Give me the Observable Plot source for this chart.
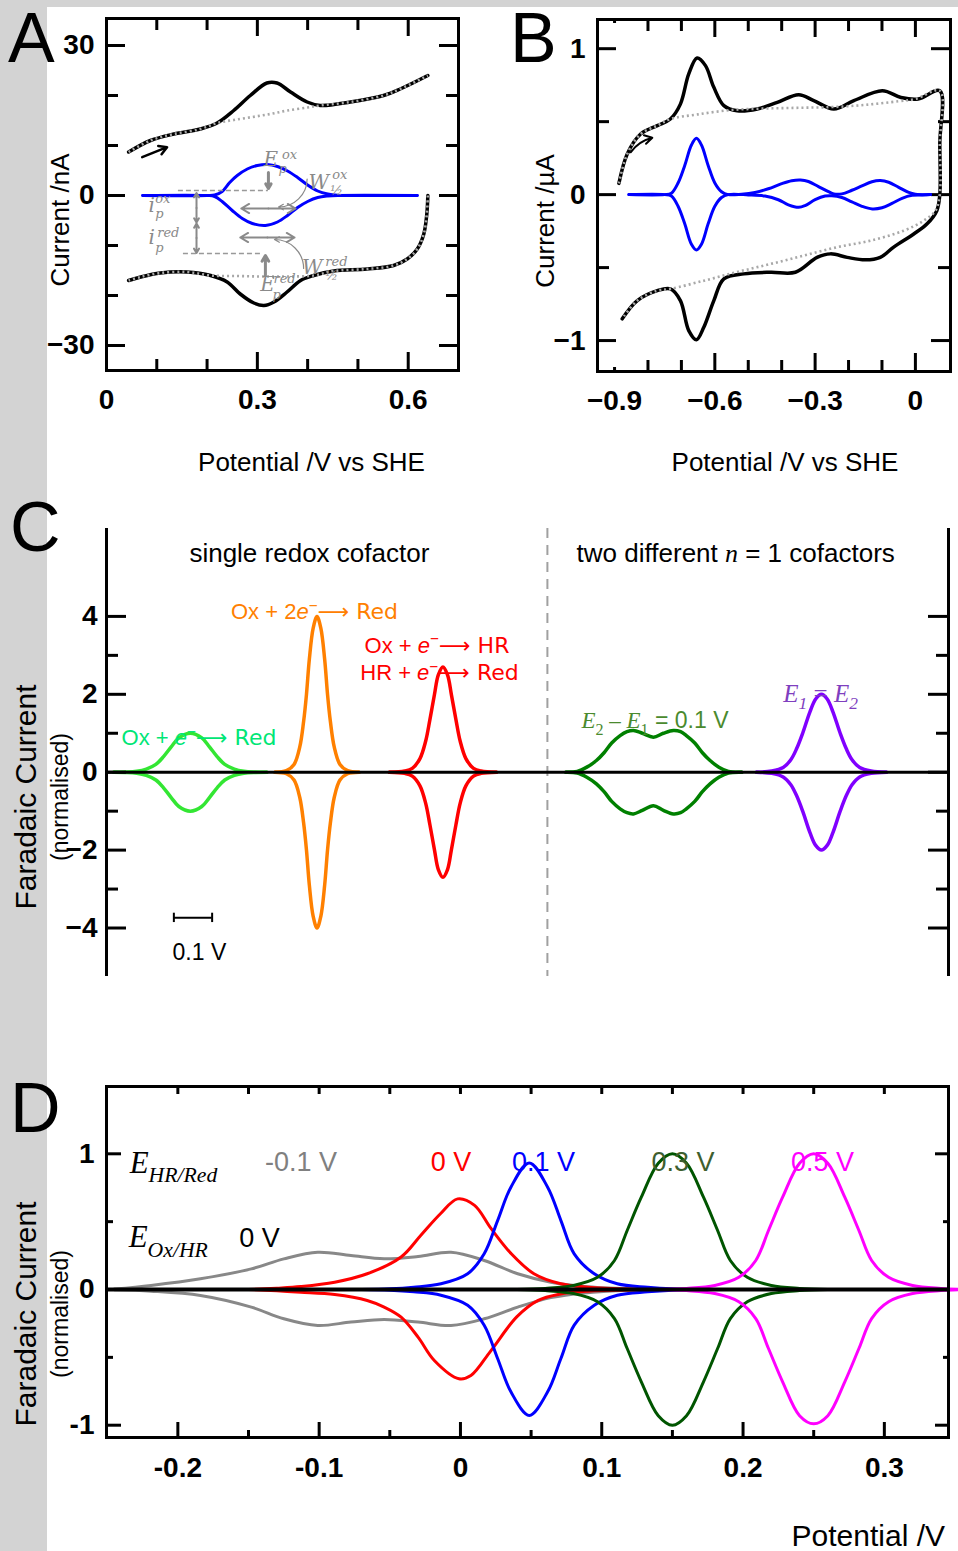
<!DOCTYPE html>
<html><head><meta charset="utf-8">
<script src="https://cdn.jsdelivr.net/npm/d3@7"></script>
<script src="https://cdn.jsdelivr.net/npm/@observablehq/plot@0.6"></script>
<style>
body{margin:0;background:#fff;}
#root{position:relative;width:958px;height:1551px;overflow:hidden;background:#fff;}
</style></head><body><div id="root"></div>
<script>
// ---------------- DATA ----------------
// Panel A (Potential V, current nA)
const A_cvOx_x = [0.044,0.0875,0.134,0.187,0.22,0.253,0.286,0.319,0.339,0.366,0.399,0.425,0.485,0.551,0.584,0.639];
const A_cvOx_y = [8.7,11,12.3,13.3,14.5,17,20,22.5,22.5,20.7,18.7,18,18.7,20,21.3,24];
const A_baseOx_x = [0.044,0.0875,0.134,0.187,0.22,0.253,0.29,0.326,0.36,0.4,0.425,0.485,0.551,0.584,0.639];
const A_baseOx_y = [8.7,11,12.3,13.3,14.5,15.1,15.7,16.3,17,17.6,18,18.7,20,21.3,24];
const A_cvRed_x = [0.639,0.637,0.631,0.618,0.598,0.571,0.518,0.452,0.412,0.386,0.359,0.333,0.313,0.293,0.266,0.24,0.207,0.16,0.107,0.068,0.044];
const A_cvRed_y = [0,-3.7,-7.7,-10.7,-12.7,-14,-14.7,-15.1,-16,-17,-19.3,-21.3,-22,-21.5,-19.7,-17.3,-16,-15.3,-15.5,-16.3,-17];
const A_baseRed_x = [0.639,0.637,0.631,0.618,0.598,0.571,0.518,0.452,0.412,0.36,0.31,0.26,0.207,0.16,0.107,0.068,0.044];
const A_baseRed_y = [0,-3.7,-7.7,-10.7,-12.7,-14,-14.7,-15.1,-16,-16.2,-16.2,-16.1,-16,-15.3,-15.5,-16.3,-17];
const A_fOx_x = [0.072,0.2,0.215,0.23,0.245,0.26,0.28,0.30,0.32,0.34,0.36,0.38,0.40,0.42,0.44,0.46,0.48,0.618];
const A_fOx_y = [0,0,0.1,0.8,2.6,4.0,5.3,6.0,6.2,5.8,4.9,3.6,2.1,0.9,0.3,0.05,0,0];
const A_fRed_x = [0.072,0.2,0.215,0.23,0.25,0.27,0.29,0.316,0.34,0.36,0.38,0.40,0.42,0.44,0.46,0.618];
const A_fRed_y = [0,0,-0.2,-1.2,-3.0,-4.6,-5.6,-6.0,-5.3,-4.0,-2.4,-1.2,-0.4,-0.1,0,0];

// Panel B (Potential V, current µA)
const B_cv_x = [-0.887,-0.862,-0.822,-0.772,-0.733,-0.703,-0.678,-0.653,-0.628,-0.603,-0.573,-0.533,-0.473,-0.413,-0.349,-0.304,-0.244,-0.184,-0.099,-0.043,0.008,0.073,0.073,0.073,0.064,0.035,-0.005,-0.065,-0.105,-0.15,-0.204,-0.254,-0.294,-0.359,-0.433,-0.513,-0.573,-0.603,-0.633,-0.655,-0.678,-0.703,-0.733,-0.772,-0.832,-0.877];
const B_cv_y = [0.077,0.279,0.415,0.473,0.518,0.62,0.827,0.936,0.884,0.735,0.61,0.575,0.587,0.632,0.685,0.644,0.587,0.644,0.712,0.666,0.655,0.712,0.35,0.0,-0.11,-0.2,-0.27,-0.36,-0.43,-0.447,-0.43,-0.406,-0.43,-0.532,-0.532,-0.543,-0.577,-0.726,-0.909,-0.995,-0.932,-0.726,-0.646,-0.658,-0.726,-0.851];
const B_base_x = [-0.887,-0.862,-0.822,-0.772,-0.733,-0.65,-0.55,-0.45,-0.35,-0.25,-0.15,-0.05,0.0,0.073,0.073,0.073,0.06,0.025,-0.035,-0.134,-0.234,-0.334,-0.433,-0.533,-0.633,-0.733,-0.772,-0.832,-0.877];
const B_base_y = [0.077,0.279,0.415,0.473,0.518,0.55,0.58,0.59,0.595,0.6,0.615,0.64,0.655,0.712,0.35,0.0,-0.11,-0.178,-0.247,-0.315,-0.36,-0.418,-0.475,-0.53,-0.59,-0.646,-0.658,-0.726,-0.851];
const B_fOx_x = [-0.857,-0.75,-0.73,-0.71,-0.69,-0.67,-0.655,-0.64,-0.62,-0.60,-0.58,-0.56,-0.52,-0.48,-0.44,-0.40,-0.37,-0.344,-0.32,-0.29,-0.26,-0.244,-0.22,-0.19,-0.16,-0.13,-0.105,-0.08,-0.05,-0.02,0.0,0.045];
const B_fOx_y = [0,0,0.01,0.08,0.2,0.34,0.386,0.34,0.2,0.08,0.02,0,0.003,0.015,0.04,0.075,0.095,0.1,0.09,0.055,0.02,0.005,0.005,0.03,0.06,0.088,0.096,0.085,0.05,0.015,0.003,0];
const B_fRed_x = [-0.857,-0.75,-0.73,-0.71,-0.69,-0.67,-0.655,-0.64,-0.62,-0.60,-0.58,-0.56,-0.50,-0.45,-0.41,-0.38,-0.349,-0.33,-0.30,-0.27,-0.25,-0.22,-0.19,-0.16,-0.129,-0.10,-0.07,-0.04,-0.01,0.02,0.045];
const B_fRed_y = [0,0,-0.01,-0.08,-0.2,-0.34,-0.379,-0.34,-0.2,-0.08,-0.02,0,-0.002,-0.01,-0.035,-0.07,-0.087,-0.075,-0.035,-0.01,-0.008,-0.02,-0.05,-0.08,-0.098,-0.09,-0.06,-0.025,-0.005,-0.002,0];

// Panel C (relative potential V, normalised current)
const C_green_x = [0.019,0.049,0.079,0.104,0.129,0.149,0.169,0.189,0.219,0.249,0.269,0.289,0.309,0.334,0.359,0.389,0.419];
const C_green_up = [0,0.005,0.025,0.08,0.2,0.4,0.65,0.88,1,0.88,0.65,0.4,0.2,0.08,0.025,0.005,0];
const C_green_dn = [0,-0.005,-0.025,-0.08,-0.2,-0.4,-0.65,-0.88,-1,-0.88,-0.65,-0.4,-0.2,-0.08,-0.025,-0.005,0];
const C_orange_x = [0.44,0.47,0.49,0.505,0.515,0.5225,0.53,0.54,0.55,0.56,0.57,0.5775,0.585,0.595,0.61,0.63,0.66];
const C_orange_up = [0,0.04,0.2,0.65,1.3,2.0,2.9,3.7,4.0,3.7,2.9,2.0,1.3,0.65,0.2,0.04,0];
const C_orange_dn = [0,-0.04,-0.2,-0.65,-1.3,-2.0,-2.9,-3.7,-4.0,-3.7,-2.9,-2.0,-1.3,-0.65,-0.2,-0.04,0];
const C_red_x = [0.739,0.779,0.799,0.819,0.834,0.845,0.857,0.867,0.879,0.891,0.901,0.913,0.924,0.939,0.959,0.979,1.019];
const C_red_up = [0,0.03,0.1,0.35,0.8,1.35,2.0,2.5,2.7,2.5,2.0,1.35,0.8,0.35,0.1,0.03,0];
const C_red_dn = [0,-0.03,-0.1,-0.35,-0.8,-1.35,-2.0,-2.5,-2.7,-2.5,-2.0,-1.35,-0.8,-0.35,-0.1,-0.03,0];
const C_dkgreen_x = [1.20,1.23,1.255,1.28,1.30,1.32,1.342,1.36,1.377,1.40,1.429,1.455,1.481,1.50,1.515,1.537,1.557,1.577,1.60,1.625,1.66];
const C_dkgreen_up = [0,0.02,0.13,0.3,0.5,0.75,0.94,1.04,1.07,1.0,0.9,1.0,1.07,1.04,0.94,0.75,0.5,0.3,0.13,0.02,0];
const C_dkgreen_dn = [0,-0.02,-0.13,-0.3,-0.5,-0.75,-0.94,-1.04,-1.07,-0.98,-0.86,-0.98,-1.07,-1.04,-0.94,-0.75,-0.5,-0.3,-0.13,-0.02,0];
const C_purple_x = [1.698,1.738,1.768,1.788,1.803,1.819,1.838,1.853,1.868,1.883,1.898,1.917,1.933,1.948,1.968,1.998,2.038];
const C_purple_up = [0,0.03,0.12,0.32,0.6,1.0,1.55,1.88,2.0,1.88,1.55,1.0,0.6,0.32,0.12,0.03,0];
const C_purple_dn = [0,-0.03,-0.12,-0.32,-0.6,-1.0,-1.55,-1.88,-2.0,-1.88,-1.55,-1.0,-0.6,-0.32,-0.12,-0.03,0];
const C_divider = [1.152];
const C_scaleBar = [0.176, 0.276];

// Panel D (Potential V, normalised current)
const D_grey_x = [-0.245,-0.219,-0.184,-0.148,-0.125,-0.101,-0.0775,-0.054,-0.03,-0.0067,0.0168,0.0405,0.064,0.0876,0.12,0.15];
const D_grey_up = [0.003,0.03,0.079,0.152,0.226,0.275,0.25,0.226,0.243,0.275,0.214,0.116,0.054,0.022,0.005,0];
const D_grey_dn = [-0.002,-0.012,-0.044,-0.13,-0.216,-0.265,-0.24,-0.221,-0.24,-0.265,-0.216,-0.13,-0.06,-0.025,-0.005,0];
const D_red_up_x = [-0.15,-0.13,-0.113,-0.089,-0.066,-0.042,-0.028,-0.014,-0.002,0.01,0.0216,0.036,0.052,0.071,0.09,0.12,0.15];
const D_red_up = [0,0.01,0.022,0.054,0.116,0.24,0.40,0.56,0.668,0.62,0.45,0.263,0.116,0.042,0.017,0.003,0];
const D_red_dn_x = [-0.15,-0.13,-0.113,-0.089,-0.066,-0.054,-0.042,-0.03,-0.0185,-0.001,0.0074,0.0216,0.04,0.055,0.07,0.09,0.12,0.15];
const D_red_dn = [0,-0.01,-0.02,-0.037,-0.081,-0.13,-0.204,-0.351,-0.523,-0.658,-0.634,-0.45,-0.2,-0.08,-0.035,-0.013,-0.003,0];
const D_blue_x = [-0.07,-0.05,-0.033,-0.0138,0.0051,0.0168,0.0263,0.0357,0.0487,0.0617,0.0711,0.0805,0.0947,0.111,0.1325,0.15,0.17];
const D_blue_up = [0,0.005,0.017,0.042,0.116,0.263,0.508,0.754,0.933,0.754,0.508,0.263,0.116,0.042,0.017,0.005,0];
const D_blue_dn = [0,-0.005,-0.017,-0.042,-0.116,-0.263,-0.508,-0.754,-0.928,-0.754,-0.508,-0.263,-0.116,-0.042,-0.017,-0.005,0];
const D_green_x = [0.04,0.06,0.08,0.097,0.109,0.118,0.128,0.14,0.15,0.16,0.172,0.182,0.191,0.203,0.22,0.24,0.26];
const D_green_up = [0,0.008,0.03,0.09,0.214,0.435,0.68,0.93,1.0,0.93,0.68,0.435,0.214,0.09,0.03,0.008,0];
const D_green_dn = [0,-0.008,-0.03,-0.09,-0.214,-0.435,-0.68,-0.93,-1.0,-0.93,-0.68,-0.435,-0.214,-0.09,-0.03,-0.008,0];
const D_mag_x = [0.14,0.16,0.18,0.197,0.209,0.218,0.228,0.24,0.25,0.26,0.272,0.282,0.291,0.303,0.32,0.34,0.36];
const D_mag_up = [0,0.008,0.03,0.09,0.214,0.435,0.68,0.93,1.0,0.93,0.68,0.435,0.214,0.09,0.03,0.008,0];
const D_mag_dn = [0,-0.008,-0.03,-0.09,-0.214,-0.435,-0.68,-0.93,-0.99,-0.93,-0.68,-0.435,-0.214,-0.09,-0.03,-0.008,0];

// Tick values / labels
const A_xMaj = [0,0.3,0.6], A_xMin = [0.1,0.2,0.4,0.5], A_yMaj = [30,0,-30], A_yMin = [20,10,-10,-20];
const B_xMaj = [-0.6,-0.3,0], B_xTiny = [-0.9], B_xMin = [-0.8,-0.7,-0.5,-0.4,-0.2,-0.1], B_xLab = [-0.9,-0.6,-0.3,0], B_yMaj = [1,0,-1], B_yMin = [0.5,-0.5];
const C_yMaj = [4,2,0,-2,-4], C_yMin = [3,1,-1,-3];
const D_xMaj = [-0.2,-0.1,0,0.1,0.2,0.3], D_xMin = [-0.15,-0.05,0.05,0.15,0.25], D_yMaj = [1,0,-1], D_yMin = [0.5,-0.5];

// Annotations (data coordinates)
const A_annoBig = [
  {x:0.312,y:6.0,t:"E"},{x:0.4016,y:1.33,t:"W"},{x:0.389,y:-15.6,t:"W"},{x:0.306,y:-19,t:"E"},
  {x:0.0835,y:-3.33,t:"i"},{x:0.0835,y:-9.7,t:"i"}];
const A_annoSmall = [
  {x:0.349,y:7.4,t:"ox"},{x:0.342,y:4.6,t:"p"},
  {x:0.4487,y:3.4,t:"ox"},{x:0.445,y:0.2,t:"½"},
  {x:0.435,y:-14,t:"red"},{x:0.435,y:-16.8,t:"½"},
  {x:0.332,y:-17.4,t:"red"},{x:0.33,y:-20.6,t:"p"},
  {x:0.097,y:-1.5,t:"ox"},{x:0.097,y:-4.4,t:"p"},
  {x:0.1008,y:-8.2,t:"red"},{x:0.097,y:-11.2,t:"p"}];
const A_dashes = [{y:1,x1:0.143,x2:0.322},{y:-11.6,x1:0.153,x2:0.312}];
const A_thickArrows = [{x1:0.322,y1:4.6,x2:0.322,y2:1.4},{x1:0.316,y1:-16,x2:0.316,y2:-12}];
const A_thinArrows = [
  {x1:0.179,y1:-2.5,x2:0.179,y2:0.5},{x1:0.179,y1:-2.5,x2:0.179,y2:-5.4},
  {x1:0.179,y1:-8.5,x2:0.179,y2:-5.6},{x1:0.179,y1:-8.5,x2:0.179,y2:-11.5},
  {x1:0.322,y1:-2.6,x2:0.268,y2:-2.6},{x1:0.322,y1:-2.6,x2:0.376,y2:-2.6},
  {x1:0.32,y1:-8.4,x2:0.266,y2:-8.4},{x1:0.32,y1:-8.4,x2:0.374,y2:-8.4}];
const A_bentArrows = [{x1:0.399,y1:3.3,x2:0.342,y2:-2.3,b:45},{x1:0.392,y1:-14.6,x2:0.334,y2:-8.8,b:-45}];
const A_scanArrow = [{x1:0.071,y1:7.66,x2:0.1205,y2:9.66}];
const B_scanArrow = [{x1:-0.852,y1:0.29,x2:-0.787,y2:0.39}];

const C_labels = [
  {x:0.53,y:5.615,t:"single redox cofactor",c:"#000",fs:26},
  {x:1.644,y:5.615,t:"two different <s><i>n</i></s> = 1 cofactors",c:"#000",fs:26},
  {x:0.5435,y:4.108,t:"Ox + 2<i>e</i><sup>−</sup>⟶ Red",c:"#ff8000",fs:22},
  {x:0.8636,y:3.253,t:"Ox + <i>e</i><sup>−</sup>⟶ HR",c:"#ff0000",fs:22},
  {x:0.870,y:2.542,t:"HR + <i>e</i><sup>−</sup>⟶ Red",c:"#ff0000",fs:22},
  {x:0.2417,y:0.883,t:"Ox + <i>e</i><sup>−</sup>⟶ Red",c:"#00e676",fs:22},
  {x:1.433,y:1.327,t:"<s><i>E</i><sub>2</sub> – <i>E</i><sub>1</sub></s> = 0.1 V",c:"#4a8a2e",fs:23},
  {x:1.866,y:2.02,t:"<s><i>E<sub>1</sub></i> = <i>E<sub>2</sub></i></s>",c:"#7f3fbf",fs:25}];
const D_labels = [
  {x:-0.1129,y:0.94,t:"-0.1 V",c:"#808080"},
  {x:-0.0067,y:0.94,t:"0 V",c:"#ff0000"},
  {x:0.0587,y:0.94,t:"0.1 V",c:"#0000ff"},
  {x:0.1575,y:0.94,t:"0.3 V",c:"#3f5f2f"},
  {x:0.2562,y:0.94,t:"0.5 V",c:"#ff00ff"},
  {x:-0.1422,y:0.376,t:"0 V",c:"#000"}];
const D_symbols = [
  {x:-0.2341,y:0.932,t:"<s><i>E<sub>HR/Red</sub></i></s>"},
  {x:-0.2348,y:0.383,t:"<s><i>E<sub>Ox/HR</sub></i></s>"}];

// ---------------- HELPERS ----------------
const SANS = "'Liberation Sans', 'DejaVu Sans', Arial, sans-serif";
const SERIF = "'Liberation Serif', 'DejaVu Serif', serif";
const root = document.getElementById("root");
const pts = (xs, ys) => xs.map((x, i) => ({x, y: ys[i]}));
const minus = v => (v < 0 ? "−" + String(-v) : String(v));

function richify(svg) {
  svg.querySelectorAll("text").forEach(t => {
    const s = t.textContent;
    if (!/<\/?(i|s|sup|sub)>/.test(s)) return;
    let el = t, fsAttr = null;
    while (el && el !== svg) { if (el.getAttribute && el.getAttribute("font-size")) { fsAttr = el.getAttribute("font-size"); break; } el = el.parentNode; }
    const fs = parseFloat(fsAttr) || 16;
    t.textContent = "";
    let italic = 0, serif = 0, mode = "", shift = 0;
    s.split(/(<\/?(?:i|s|sup|sub)>)/).forEach(tok => {
      if (!tok) return;
      const m = tok.match(/^<(\/?)(i|s|sup|sub)>$/);
      if (m) {
        const on = !m[1];
        if (m[2] === "i") italic += on ? 1 : -1;
        else if (m[2] === "s") serif += on ? 1 : -1;
        else mode = on ? m[2] : "";
        return;
      }
      const ts = document.createElementNS("http://www.w3.org/2000/svg", "tspan");
      const target = mode === "sup" ? -0.38 * fs : mode === "sub" ? 0.3 * fs : 0;
      if (target !== shift) { ts.setAttribute("dy", target - shift); shift = target; }
      if (mode) ts.setAttribute("font-size", 0.7 * fs);
      if (italic > 0) ts.setAttribute("font-style", "italic");
      if (serif > 0) ts.setAttribute("font-family", SERIF);
      if (tok.includes("⟶")) ts.setAttribute("font-family", "'DejaVu Sans', sans-serif");
      ts.textContent = tok;
      t.appendChild(ts);
    });
  });
}
// split arrows into own tspans so they can get the DejaVu font
function splitArrows(s) { return s.replace(/⟶/g, "</x>⟶</x>"); }

function place(svg, left, top) {
  svg.style.position = "absolute";
  svg.style.left = left + "px";
  svg.style.top = top + "px";
  svg.style.overflow = "visible";
  richify(svg);
  root.appendChild(svg);
}

// inward ticks
function tx(d, vals, len, side, sw = 3) {
  const ih = d.h - d.mt - d.mb;
  return Plot.tickX(vals, {x: v => v, stroke: "#000", strokeWidth: sw,
    insetTop: side === "bottom" ? ih - len : 0, insetBottom: side === "top" ? ih - len : 0});
}
function ty(d, vals, len, side, sw = 3) {
  const iw = d.w - d.ml - d.mr;
  return Plot.tickY(vals, {y: v => v, stroke: "#000", strokeWidth: sw,
    insetRight: side === "left" ? iw - len : 0, insetLeft: side === "right" ? iw - len : 0});
}
function xLabels(vals, fmt, pad, fs = 28) {
  return Plot.text(vals, {x: v => v, text: fmt, frameAnchor: "bottom", lineAnchor: "top", dy: pad, fontSize: fs, fontWeight: "bold", fill: "#000"});
}
function yLabels(vals, fmt, pad, fs = 28) {
  return Plot.text(vals, {y: v => v, text: fmt, frameAnchor: "left", textAnchor: "end", dx: -pad, fontSize: fs, fontWeight: "bold", fill: "#000"});
}
function plotBase(d, xd, yd, marks) {
  return Plot.plot({
    width: d.w, height: d.h, marginLeft: d.ml, marginRight: d.mr, marginTop: d.mt, marginBottom: d.mb,
    x: {domain: xd, axis: null}, y: {domain: yd, axis: null},
    style: {fontFamily: SANS, background: "transparent", overflow: "visible"},
    marks
  });
}
const line = (data, stroke, sw, extra = {}) => Plot.line(data, {x: "x", y: "y", stroke, strokeWidth: sw, curve: "catmull-rom", strokeLinejoin: "round", ...extra});
const dotted = (data) => line(data, "#a8a8a8", 2.6, {strokeDasharray: "2,3", strokeLinecap: "butt"});

// ---------------- PANEL A ----------------
const dA = {w: 470, h: 480, ml: 106, mr: 12, mt: 18, mb: 110};
const GREY = "#8a8a8a";
const svgA = plotBase(dA, [0, 0.7], [-35, 35.4], [
  tx(dA, A_xMaj, 18, "bottom"), tx(dA, A_xMin, 11, "bottom"),
  tx(dA, A_xMaj, 18, "top"), tx(dA, A_xMin, 12, "top"),
  ty(dA, A_yMaj, 19, "left"), ty(dA, A_yMin, 12, "left"),
  ty(dA, A_yMaj, 19, "right"), ty(dA, A_yMin, 12, "right"),
  Plot.frame({stroke: "#000", strokeWidth: 3}),
  line(pts(A_fOx_x, A_fOx_y), "#0000ff", 3),
  line(pts(A_fRed_x, A_fRed_y), "#0000ff", 3),
  line(pts(A_cvOx_x, A_cvOx_y), "#000", 3.5),
  line(pts(A_cvRed_x, A_cvRed_y), "#000", 3.5),
  dotted(pts(A_baseOx_x, A_baseOx_y)),
  dotted(pts(A_baseRed_x, A_baseRed_y)),
  Plot.ruleY(A_dashes, {y: "y", x1: "x1", x2: "x2", stroke: "#999", strokeWidth: 1.5, strokeDasharray: "5,3"}),
  Plot.arrow(A_thickArrows, {x1: "x1", y1: "y1", x2: "x2", y2: "y2", stroke: GREY, strokeWidth: 3, headLength: 9}),
  Plot.arrow(A_thinArrows, {x1: "x1", y1: "y1", x2: "x2", y2: "y2", stroke: GREY, strokeWidth: 2, headLength: 8}),
  Plot.arrow(A_bentArrows.filter(d => d.b > 0), {x1: "x1", y1: "y1", x2: "x2", y2: "y2", bend: 45, stroke: GREY, strokeWidth: 1.2, headLength: 7}),
  Plot.arrow(A_bentArrows.filter(d => d.b < 0), {x1: "x1", y1: "y1", x2: "x2", y2: "y2", bend: -45, stroke: GREY, strokeWidth: 1.2, headLength: 7}),
  Plot.arrow(A_scanArrow, {x1: "x1", y1: "y1", x2: "x2", y2: "y2", stroke: "#000", strokeWidth: 2.5, headLength: 10}),
  Plot.text(A_annoBig, {x: "x", y: "y", text: "t", textAnchor: "start", lineAnchor: "bottom", fontSize: 20, fontStyle: "italic", fontFamily: "'DejaVu Serif', serif", fill: GREY}),
  Plot.text(A_annoSmall, {x: "x", y: "y", text: "t", textAnchor: "start", lineAnchor: "bottom", fontSize: 13, fontStyle: "italic", fontFamily: "'DejaVu Serif', serif", fill: GREY}),
  xLabels(A_xMaj, v => String(v), 19),
  yLabels(A_yMaj, minus, 12)
]);
place(svgA, 0, 0);

// ---------------- PANEL B ----------------
const dB = {w: 488, h: 480, ml: 127, mr: 8, mt: 19, mb: 109};
const svgB = plotBase(dB, [-0.951, 0.105], [-1.212, 1.2], [
  tx(dB, B_xMaj, 18, "bottom"), tx(dB, B_xMin, 11, "bottom"), tx(dB, B_xTiny, 4, "bottom"),
  tx(dB, B_xMaj, 18, "top"), tx(dB, B_xMin, 12, "top"), tx(dB, B_xTiny, 4, "top"),
  ty(dB, B_yMaj, 19, "left"), ty(dB, B_yMin, 12, "left"),
  ty(dB, B_yMaj, 19, "right"), ty(dB, B_yMin, 12, "right"),
  Plot.frame({stroke: "#000", strokeWidth: 3}),
  line(pts(B_fOx_x, B_fOx_y), "#0000ff", 3),
  line(pts(B_fRed_x, B_fRed_y), "#0000ff", 3),
  line(pts(B_cv_x, B_cv_y), "#000", 3.5),
  dotted(pts(B_base_x, B_base_y)),
  Plot.arrow(B_scanArrow, {x1: "x1", y1: "y1", x2: "x2", y2: "y2", bend: 20, stroke: "#000", strokeWidth: 2, headLength: 9}),
  xLabels(B_xLab, minus, 19),
  yLabels(B_yMaj, minus, 12)
]);
place(svgB, 470, 0);

// ---------------- PANEL C ----------------
const dC = {w: 958, h: 500, ml: 106, mr: 10, mt: 28, mb: 24};
const C_axisX = [0, 2.2];
const svgC = plotBase(dC, C_axisX, [-5.245, 6.257], [
  Plot.ruleX(C_divider, {stroke: "#a0a0a0", strokeWidth: 2, strokeDasharray: "10,7"}),
  line(pts(C_green_x, C_green_up), "#33e633", 3.5), line(pts(C_green_x, C_green_dn), "#33e633", 3.5),
  line(pts(C_orange_x, C_orange_up), "#ff8000", 3.5), line(pts(C_orange_x, C_orange_dn), "#ff8000", 3.5),
  line(pts(C_red_x, C_red_up), "#ff0000", 3.5), line(pts(C_red_x, C_red_dn), "#ff0000", 3.5),
  line(pts(C_dkgreen_x, C_dkgreen_up), "#008000", 3.5), line(pts(C_dkgreen_x, C_dkgreen_dn), "#008000", 3.5),
  line(pts(C_purple_x, C_purple_up), "#8000ff", 3.5), line(pts(C_purple_x, C_purple_dn), "#8000ff", 3.5),
  Plot.ruleY([0], {stroke: "#000", strokeWidth: 3}),
  Plot.ruleX(C_axisX, {stroke: "#000", strokeWidth: 3}),
  ty(dC, C_yMaj, 20, "left"), ty(dC, C_yMin, 12, "left"),
  ty(dC, C_yMaj, 20, "right"), ty(dC, C_yMin, 12, "right"),
  yLabels(C_yMaj, minus, 9),
  Plot.ruleY([{y: -3.738, x1: C_scaleBar[0], x2: C_scaleBar[1]}], {y: "y", x1: "x1", x2: "x2", stroke: "#000", strokeWidth: 2}),
  Plot.ruleX(C_scaleBar, {y1: -3.62, y2: -3.86, stroke: "#000", strokeWidth: 2}),
  Plot.text(["0.1 V"], {x: 0.1725, y: -4.62, text: d => d, textAnchor: "start", fontSize: 23, fill: "#000"}),
  ...C_labels.map(l => Plot.text([l], {x: "x", y: "y", text: "t", fill: l.c, fontSize: l.fs}))
]);
place(svgC, 0, 500);

// ---------------- PANEL D ----------------
const dD = {w: 958, h: 491, ml: 106, mr: 10, mt: 26, mb: 114};
const svgD = plotBase(dD, [-0.2505, 0.3454], [-1.0906, 1.496], [
  line(pts(D_grey_x, D_grey_up), "#888888", 3), line(pts(D_grey_x, D_grey_dn), "#888888", 3),
  line(pts(D_red_up_x, D_red_up), "#ff0000", 3), line(pts(D_red_dn_x, D_red_dn), "#ff0000", 3),
  line(pts(D_blue_x, D_blue_up), "#0000ff", 3), line(pts(D_blue_x, D_blue_dn), "#0000ff", 3),
  line(pts(D_green_x, D_green_up), "#005500", 3), line(pts(D_green_x, D_green_dn), "#005500", 3),
  line(pts(D_mag_x, D_mag_up), "#ff00ff", 3), line(pts(D_mag_x, D_mag_dn), "#ff00ff", 3),
  Plot.ruleY([0], {stroke: "#000", strokeWidth: 4}),
  tx(dD, D_xMaj, 15, "bottom"), tx(dD, D_xMin, 7, "bottom"),
  tx(dD, D_xMaj, 8, "top"), tx(dD, D_xMin, 8, "top"),
  ty(dD, D_yMaj, 15, "left"), ty(dD, D_yMin, 7, "left"),
  ty(dD, D_yMaj, 13, "right"), ty(dD, D_yMin, 5, "right"),
  Plot.frame({stroke: "#000", strokeWidth: 3}),
  xLabels(D_xMaj, v => String(v), 20),
  yLabels(D_yMaj, v => String(v), 12),
  Plot.text(D_labels.filter(l => l.c !== "#000"), {x: "x", y: "y", text: "t", fill: "c", fontSize: 27}),
  Plot.text(D_labels.filter(l => l.c === "#000"), {x: "x", y: "y", text: "t", fill: "#000", fontSize: 27}),
  Plot.text(D_symbols, {x: "x", y: "y", text: "t", textAnchor: "start", fill: "#000", fontSize: 31})
]);
place(svgD, 0, 1060);

// ---------------- BACKGROUND + OVERLAY ----------------
const NS = "http://www.w3.org/2000/svg";
const bg = document.createElementNS(NS, "svg");
bg.setAttribute("width", 958); bg.setAttribute("height", 1551);
bg.style.position = "absolute"; bg.style.left = "0px"; bg.style.top = "0px";
[[0, 0, 47, 1551], [0, 0, 958, 7]].forEach(([x, y, w, h]) => {
  const r = document.createElementNS(NS, "rect");
  r.setAttribute("x", x); r.setAttribute("y", y); r.setAttribute("width", w); r.setAttribute("height", h); r.setAttribute("fill", "#d3d3d3");
  bg.appendChild(r);
});
root.insertBefore(bg, root.firstChild);

const ov = document.createElementNS(NS, "svg");
ov.setAttribute("width", 958); ov.setAttribute("height", 1551);
ov.style.position = "absolute"; ov.style.left = "0px"; ov.style.top = "0px";
ov.style.pointerEvents = "none";
function txt(s, x, y, {size = 26, anchor = "middle", rotate = 0, baseline = "central", weight = "normal"} = {}) {
  const t = document.createElementNS(NS, "text");
  t.setAttribute("x", x); t.setAttribute("y", y);
  t.setAttribute("font-family", SANS); t.setAttribute("font-size", size); t.setAttribute("font-weight", weight);
  t.setAttribute("text-anchor", anchor); t.setAttribute("dominant-baseline", baseline);
  if (rotate) t.setAttribute("transform", `rotate(${rotate} ${x} ${y})`);
  t.textContent = s; ov.appendChild(t);
}
txt("A", 8, 62, {size: 70, anchor: "start", baseline: "alphabetic"});
txt("B", 510, 62, {size: 70, anchor: "start", baseline: "alphabetic"});
txt("C", 10, 551, {size: 70, anchor: "start", baseline: "alphabetic"});
txt("D", 10, 1132, {size: 70, anchor: "start", baseline: "alphabetic"});
txt("Current /nA", 60, 220, {rotate: -90});
txt("Current /µA", 545, 221, {rotate: -90});
txt("Potential /V vs SHE", 311.5, 462);
txt("Potential /V vs SHE", 785, 462);
txt("Faradaic Current", 25, 797, {size: 30, rotate: -90});
txt("(normalised)", 60, 797, {size: 23, rotate: -90});
txt("Faradaic Current", 25, 1314, {size: 30, rotate: -90});
txt("(normalised)", 60, 1314, {size: 23, rotate: -90});
txt("Potential /V", 945, 1535, {size: 30, anchor: "end"});
root.appendChild(ov);
</script></body></html>
